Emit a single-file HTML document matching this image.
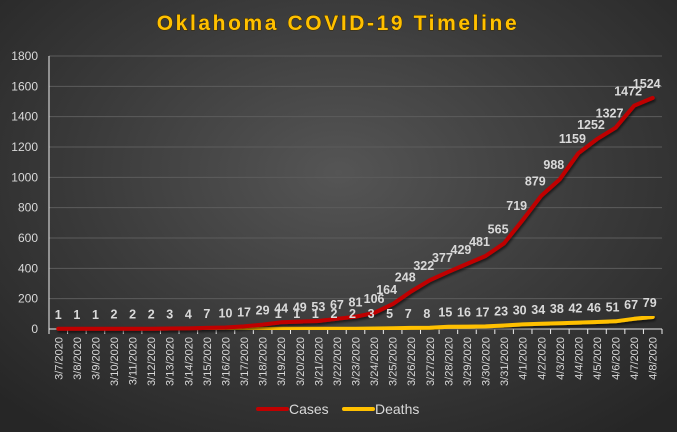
<!DOCTYPE html>
<html><head><meta charset="utf-8"><style>
html,body{margin:0;padding:0;}
body{width:677px;height:432px;overflow:hidden;background:radial-gradient(ellipse 70% 75% at 50% 40%,#555 0%,#3a3a3a 55%,#262626 100%);font-family:"Liberation Sans",sans-serif;}
svg{position:absolute;left:0;top:0}
</style></head><body>
<svg id="c" width="677" height="432" xmlns="http://www.w3.org/2000/svg">
<defs><filter id="sh" x="-5%" y="-5%" width="110%" height="110%"><feDropShadow dx="1" dy="2" stdDeviation="1.2" flood-color="#000" flood-opacity="0.6"/></filter></defs>
<text x="338" y="30" text-anchor="middle" font-family="Liberation Sans, sans-serif" font-weight="bold" font-size="21" letter-spacing="2.6" fill="#ffc000" stroke="#3a2a00" stroke-width="0.9" paint-order="stroke">Oklahoma  COVID-19  Timeline</text>
<g id="g"></g>
</svg>
<script>
const svg=document.getElementById('g');const NS='http://www.w3.org/2000/svg';
function el(t,a,txt){const e=document.createElementNS(NS,t);for(const k in a)e.setAttribute(k,a[k]);if(txt!==undefined)e.textContent=txt;svg.appendChild(e);return e;}
const x0=49,x1=662,y0=329,yTop=56,n=33,cw=(x1-x0)/n;
const Y=v=>y0-(v/1800)*(y0-yTop);const X=i=>x0+cw*(i+0.5);
for(let v=200;v<=1800;v+=200)el('line',{x1:x0,x2:x1,y1:Y(v),y2:Y(v),stroke:'#5c5c5c','stroke-width':1});
for(let v=0;v<=1800;v+=200)el('text',{x:38,y:Y(v)+4,'text-anchor':'end','font-size':12,fill:'#d9d9d9'},v);
el('line',{x1:x0,x2:x0,y1:yTop,y2:y0,stroke:'#eee','stroke-width':1});
el('line',{x1:x0,x2:x1,y1:y0,y2:y0,stroke:'#eee','stroke-width':1});
const cases=[1,1,1,2,2,2,3,4,7,10,17,29,44,49,53,67,81,106,164,248,322,377,429,481,565,719,879,988,1159,1252,1327,1472,1524];
const deaths=[0,0,0,0,0,0,0,0,0,0,0,0,1,1,1,2,2,3,5,7,8,15,16,17,23,30,34,38,42,46,51,67,79];
for(let i=0;i<=n;i++)el('line',{x1:x0+cw*i,x2:x0+cw*i,y1:y0,y2:y0+5,stroke:'#eee','stroke-width':1});
for(let i=0;i<n;i++){const d=new Date(2020,2,7+i);const s=(d.getMonth()+1)+'/'+d.getDate()+'/2020';
el('text',{x:0,y:0,transform:`translate(${X(i)+4},${y0+8}) rotate(-90)`,'text-anchor':'end','font-size':11,fill:'#d9d9d9'},s);}
const pts=a=>a.map((v,i)=>X(i).toFixed(1)+','+Y(v).toFixed(1)).join(' ');
el('polyline',{points:pts(deaths),fill:'none',stroke:'#ffc000','stroke-width':4,'stroke-linejoin':'round','stroke-linecap':'round',filter:'url(#sh)'});
el('polyline',{points:pts(cases),fill:'none',stroke:'#c00000','stroke-width':4,'stroke-linejoin':'round','stroke-linecap':'round',filter:'url(#sh)'});
cases.forEach((v,i)=>{let dx=i>=18?-6:0;el('text',{x:X(i)+dx,y:Y(v)-10,'text-anchor':'middle','font-size':12.5,'font-weight':'bold',fill:'#d9d9d9'},v);});
deaths.forEach((v,i)=>{if(i<12)return;el('text',{x:X(i)-3,y:Math.min(Y(v)-10,318),'text-anchor':'middle','font-size':12.5,'font-weight':'bold',fill:'#d9d9d9'},v);});
el('line',{x1:258,x2:287,y1:409,y2:409,stroke:'#c00000','stroke-width':4,'stroke-linecap':'round'});
el('text',{x:289,y:414,'font-size':14,fill:'#d9d9d9'},'Cases');
el('line',{x1:344,x2:373,y1:409,y2:409,stroke:'#ffc000','stroke-width':4,'stroke-linecap':'round'});
el('text',{x:375,y:414,'font-size':14,fill:'#d9d9d9'},'Deaths');
</script>
</body></html>
